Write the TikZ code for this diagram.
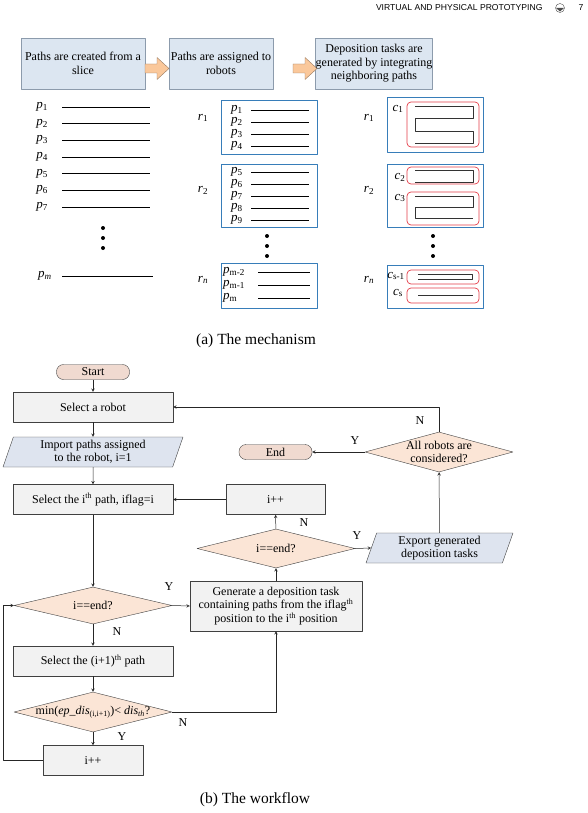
\documentclass[tikz,border=0pt]{standalone}
\usepackage{fontspec}
\setmainfont{Liberation Serif}
\newfontfamily\headfont{Liberation Sans}
\usetikzlibrary{shapes.geometric,positioning}
\definecolor{stagefill}{RGB}{220,230,241}
\definecolor{stageline}{RGB}{140,155,172}
\definecolor{arrowfill}{RGB}{250,200,155}
\definecolor{arrowline}{RGB}{150,120,95}
\definecolor{robotblue}{RGB}{55,125,185}
\definecolor{taskred}{RGB}{228,60,72}
\definecolor{procfill}{RGB}{242,242,242}
\definecolor{decfill}{RGB}{251,229,214}
\definecolor{iofill}{RGB}{222,228,239}
\definecolor{termfill}{RGB}{240,218,208}
\newcommand{\plab}[2]{\textit{#1}\textsubscript{#2}}
\tikzset{
  stagebox/.style={draw=stageline, fill=stagefill, align=center, inner sep=0pt},
  robotbox/.style={draw=robotblue, thick},
  taskbox/.style={draw=taskred, line width=0.7pt, rounded corners=4pt},
  proc/.style={draw=black!75, fill=procfill, align=center, minimum width=160, minimum height=30, inner sep=0pt},
  dec/.style={draw=black!75, fill=decfill, diamond, inner sep=0pt},
  io/.style={draw=black!75, fill=iofill, trapezium, trapezium left angle=68, trapezium right angle=112,
    trapezium stretches body, align=center, minimum height=30, inner sep=1pt},
  term/.style={draw=black!75, fill=termfill, rounded corners=7pt, minimum width=73, minimum height=15, inner sep=0pt},
  flow/.style={->, draw=black!85, line width=0.5pt},
  lbl/.style={font=\fontsize{12}{13}\selectfont, inner sep=1pt},
  plbl/.style={font=\fontsize{13}{14}\selectfont, inner sep=0pt},
}
\begin{document}
\begin{tikzpicture}[x=1pt, y=-1pt, font=\fontsize{12}{13.5}\selectfont, line join=round, >=stealth]
\useasboundingbox (0,0) rectangle (587,813);

% page header
\node[anchor=east, font=\headfont\fontsize{8.6}{9}\selectfont] (head) at (546,8) {VIRTUAL AND PHYSICAL PROTOTYPING};
\draw[black!70] (560,8) circle (4.5);
\fill[black!70] (556,8) -- (564,8) -- (560,11.5) -- cycle;
\node[font=\headfont\fontsize{8.6}{9}\selectfont] (pg) at (581,8) {7};

% (a) the mechanism
\node[stagebox, minimum width=124, minimum height=51] (s1) at (83,63.5) {Paths are created from a\\slice};
\node[stagebox, minimum width=104, minimum height=51] (s2) at (221,63.5) {Paths are assigned to\\robots};
\node[stagebox, minimum width=115, minimum height=51] (s3) at (374,63.5) {Deposition tasks are\\generated by integrating\\neighboring paths};
\foreach \xa in {145,293}
  \draw[arrowline, fill=arrowfill] (\xa,64) -- (\xa+12,64) -- (\xa+12,57.5) -- (\xa+24,68.5) -- (\xa+12,79.5) -- (\xa+12,73) -- (\xa,73) -- cycle;

% paths of the slice
\foreach \i/\yy in {1/107,2/123.5,3/140,4/157,5/173.5,6/190,7/207} {
  \node[plbl, anchor=east] (p\i) at (48,\yy) {\plab{p}{\i}};
  \draw (62,\yy) -- (150,\yy);
}
\foreach \yy in {228,238,248} \fill (103,\yy) circle (2);
\node[plbl, anchor=east] (pm) at (52,276) {\plab{p}{\textit{m}}};
\draw (62,276) -- (153,276);

% paths of the robots
\node[plbl] (ra1) at (203,118) {\plab{r}{1}};
\node[plbl] (ra2) at (203,190) {\plab{r}{2}};
\node[plbl] (ran) at (203,280) {\plab{r}{\textit{n}}};
\draw[robotbox] (221,100) rectangle (317,154);
\draw[robotbox] (221,164) rectangle (317,227);
\draw[robotbox] (221,263) rectangle (317,308);
\foreach \i/\yy in {1/110,2/122,3/134,4/146,5/172,6/184,7/196,8/208,9/220} {
  \node[plbl, anchor=west] (q\i) at (231,\yy) {\plab{p}{\i}};
  \draw (251,\yy) -- (309,\yy);
}
\foreach \yy in {236,246,256} \fill (267,\yy) circle (2);
\foreach \s/\yy in {m-2/272,m-1/285,m/298} {
  \node[plbl, anchor=west] at (223,\yy) {\plab{p}{\s}};
  \draw (258,\yy) -- (310,\yy);
}

% deposition tasks of the robots
\node[plbl] (rb1) at (369,118) {\plab{r}{1}};
\node[plbl] (rb2) at (369,190) {\plab{r}{2}};
\node[plbl] (rbn) at (369,280) {\plab{r}{\textit{n}}};
\draw[robotbox] (387,97) rectangle (483,152);
\draw[robotbox] (387,164) rectangle (483,227);
\draw[robotbox] (387,265) rectangle (483,308);
\draw[taskbox] (407,102) rectangle (479,147);
\draw[taskbox] (407,167) rectangle (479,184);
\draw[taskbox] (407,192) rectangle (479,225);
\draw[taskbox] (407,270) rectangle (479,284);
\draw[taskbox] (407,288) rectangle (479,303);
\draw[black!80] (415,106) -- (473,106) -- (473,118.5) -- (415,118.5) -- (415,131) -- (473,131) -- (473,143) -- (415,143);
\draw[black!80] (415,170) -- (473,170) -- (473,182) -- (415,182);
\draw[black!80] (415,196) -- (473,196) -- (473,207) -- (415,207) -- (415,218) -- (473,218);
\draw[black!80] (418,274) -- (472,274) -- (472,279) -- (418,279);
\draw[black!80] (418,295) -- (473,295);
\node[plbl] (c1) at (398,109) {\plab{c}{1}};
\node[plbl] (c2) at (400,177) {\plab{c}{2}};
\node[plbl] (c3) at (400,198) {\plab{c}{3}};
\node[plbl] (cs1) at (396,276) {\plab{c}{s-1}};
\node[plbl] (cs) at (398,293) {\plab{c}{s}};
\foreach \yy in {236,246,256} \fill (433,\yy) circle (2);

\node[font=\fontsize{15.5}{17}\selectfont] (capa) at (256,341) {(a) The mechanism};

% (b) the workflow
\node[term] (start) at (93,372) {Start};
\node[proc] (robot) at (93,407) {Select a robot};
\node[io, minimum width=180] (import) at (93,452) {Import paths assigned\\to the robot, i=1};
\node[proc] (sel) at (93,499.5) {Select the i\textsuperscript{th} path, iflag=i};
\node[dec, minimum width=158, minimum height=37] (end1) at (93,605.5) {};
\node (end1t) at (93,605.5) {i==end?};
\node[proc] (next) at (93,661) {Select the (i+1)\textsuperscript{th} path};
\node[dec, minimum width=158, minimum height=40] (near) at (93,712) {};
\node (neart) at (93,712) {min(\textit{ep\_dis}\textsubscript{(i,i+1)})< \textit{dis}\textsubscript{\textit{th}}?};
\node[proc, minimum width=100] (inc1) at (93,760.5) {i++};
\node[proc, minimum width=172, minimum height=50] (gen) at (276,606) {Generate a deposition task\\containing paths from the iflag\textsuperscript{th}\\position to the i\textsuperscript{th} position};
\node[dec, minimum width=158, minimum height=39] (end2) at (276,548.5) {};
\node (end2t) at (276,548.5) {i==end?};
\node[proc, minimum width=99] (inc2) at (275.5,499.5) {i++};
\node[io, minimum width=147] (export) at (439.5,548) {Export generated\\deposition tasks};
\node[dec, minimum width=148, minimum height=40] (all) at (439,452) {};
\node[align=center] (allt) at (439,452) {All robots are\\considered?};
\node[term] (stop) at (275.5,452) {End};

\draw[flow] (start) -- (robot);
\draw[flow] (robot) -- (import);
\draw[flow] (import) -- (sel);
\draw[flow] (sel) -- (end1);
\draw[flow] (end1) -- (next);
\draw[flow] (next) -- (near);
\draw[flow] (near) -- (inc1);
\draw[flow] (inc1.west) -- (3,760.5) |- (end1.west);
\draw[flow] (end1.east) -- (gen.west);
\draw[flow] (near.east) -| (gen.south);
\draw[flow] (gen) -- (end2);
\draw[flow] (end2) -- (inc2);
\draw[flow] (inc2) -- (sel);
\draw[flow] (end2.east) -- (export.west);
\draw[flow] (export) -- (all);
\draw[flow] (all) -- (stop);
\draw[flow] (all.north) |- (439,407) -- (robot.east);

\node[lbl] (ya) at (169,587) {Y};
\node[lbl] (na) at (117,632) {N};
\node[lbl] (nb) at (183,723) {N};
\node[lbl] (yb) at (122,737) {Y};
\node[lbl] (nc) at (304,523) {N};
\node[lbl] (yc) at (357,536) {Y};
\node[lbl] (yd) at (355,441) {Y};
\node[lbl] (nd) at (420,421) {N};

\node[font=\fontsize{15.5}{17}\selectfont] (capb) at (255,800) {(b) The workflow};
\end{tikzpicture}
\end{document}
